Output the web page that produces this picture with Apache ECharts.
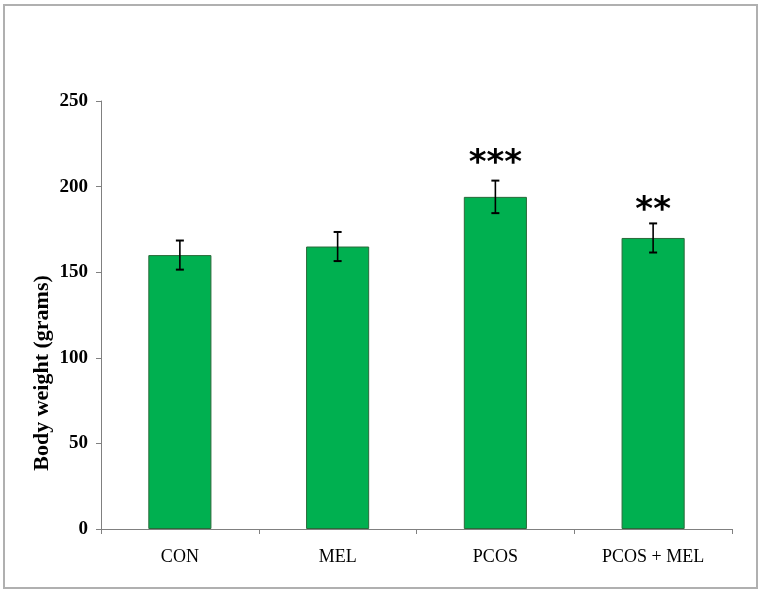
<!DOCTYPE html>
<html>
<head>
<meta charset="utf-8">
<script src="https://cdn.jsdelivr.net/npm/echarts@6/dist/echarts.min.js"></script>
<style>
html,body{margin:0;padding:0;background:#fff;}
#frame{position:absolute;left:3px;top:4px;width:755px;height:585px;border:2px solid #b0b0b0;box-sizing:border-box;}
#chart{position:absolute;left:0;top:0;width:762px;height:594px;}
</style>
</head>
<body>
<div id="frame"></div>
<div id="chart"></div>
<script>
var categories = ["CON", "MEL", "PCOS", "PCOS + MEL"];
var means = [160, 165, 194, 170];
var errors = [8.5, 8.5, 9.5, 8.5];
var stars = ["", "", "***", "**"];
var yTicks = [0, 50, 100, 150, 200, 250];

var chart = echarts.init(document.getElementById('chart'));
var serif = '"Liberation Serif", "Times New Roman", serif';

var errData = categories.map(function (c, i) {
  return [i, means[i] - errors[i], means[i] + errors[i], stars[i]];
});

chart.setOption({
  animation: false,
  grid: { left: 101, right: 30, top: 101, bottom: 65 },
  xAxis: {
    type: 'category',
    data: categories,
    axisLine: { lineStyle: { color: '#808080', width: 1 } },
    axisTick: { show: true, length: 5, lineStyle: { color: '#808080' } },
    axisLabel: { color: '#000', fontFamily: serif, fontSize: 18, margin: 19 }
  },
  yAxis: {
    type: 'value',
    min: yTicks[0],
    max: yTicks[yTicks.length - 1],
    interval: 50,
    axisLine: { show: true, lineStyle: { color: '#808080', width: 1 } },
    axisTick: { show: true, length: 5, lineStyle: { color: '#808080' } },
    splitLine: { show: false },
    axisLabel: { color: '#000', fontFamily: serif, fontSize: 19, fontWeight: 'bold', margin: 13 }
  },
  graphic: [{
    type: 'text',
    x: 42, y: 373,
    rotation: Math.PI / 2,
    style: {
      text: 'Body weight (grams)',
      fill: '#000',
      font: 'bold 22px ' + serif,
      textAlign: 'center',
      textVerticalAlign: 'middle'
    }
  }],
  series: [{
    type: 'bar',
    data: means,
    barWidth: '40%',
    itemStyle: { color: '#00b050', borderColor: '#2a6a3a', borderWidth: 1 }
  }, {
    type: 'custom',
    data: errData,
    z: 10,
    renderItem: function (params, api) {
      var x = api.value(0);
      var lo = api.coord([x, api.value(1)]);
      var hi = api.coord([x, api.value(2)]);
      var hw = 4;
      var st = { stroke: '#000', lineWidth: 1.6 };
      var children = [
        { type: 'line', shape: { x1: hi[0], y1: hi[1], x2: lo[0], y2: lo[1] }, style: st },
        { type: 'line', shape: { x1: hi[0] - hw, y1: hi[1], x2: hi[0] + hw, y2: hi[1] }, style: { stroke: '#000', lineWidth: 2 } },
        { type: 'line', shape: { x1: lo[0] - hw, y1: lo[1], x2: lo[0] + hw, y2: lo[1] }, style: { stroke: '#000', lineWidth: 2 } }
      ];
      var s = stars[params.dataIndex];
      if (s) {
        children.push({
          type: 'text',
          x: hi[0], y: hi[1] - (s.length === 3 ? 16 : 12),
          style: {
            text: s,
            fill: '#000',
            font: 'bold 34px "DejaVu Sans", sans-serif',
            textAlign: 'center',
            textVerticalAlign: 'middle'
          }
        });
      }
      return { type: 'group', children: children };
    }
  }]
});
</script>
</body>
</html>
